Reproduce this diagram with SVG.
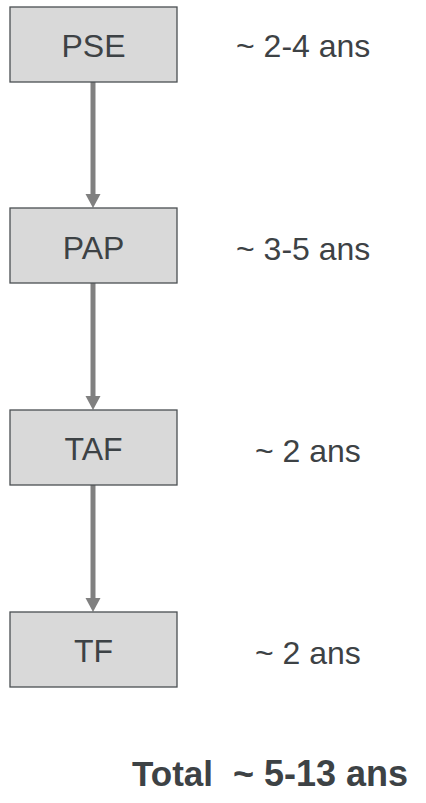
<svg xmlns="http://www.w3.org/2000/svg" width="426" height="803" viewBox="0 0 426 803">
<style>
.box{fill:#d9d9d9;stroke:#4a4f52;stroke-width:1.3}
.t{font-family:"Liberation Sans",Arial,sans-serif;font-size:32px;fill:#3d4245}
.c{text-anchor:middle}
.b{font-weight:bold;font-size:35px}
.conn{stroke:#808080;stroke-width:5;fill:none}
.head{fill:#808080}
</style>
<g id="connectors">
<line class="conn" x1="93" y1="82" x2="93" y2="196"/>
<polygon class="head" points="85.5,194 100.5,194 93,208"/>
<line class="conn" x1="93" y1="283" x2="93" y2="398"/>
<polygon class="head" points="85.5,396 100.5,396 93,410"/>
<line class="conn" x1="93" y1="485" x2="93" y2="600"/>
<polygon class="head" points="85.5,598 100.5,598 93,612"/>
</g>
<g id="PSE">
<rect class="box" x="10" y="7" width="167" height="75"/>
<text class="t c" x="93.5" y="57">PSE</text>
</g>
<g id="PAP">
<rect class="box" x="10" y="208" width="167" height="75"/>
<text class="t c" x="93.5" y="259">PAP</text>
</g>
<g id="TAF">
<rect class="box" x="10" y="410" width="167" height="75"/>
<text class="t c" x="93.5" y="460">TAF</text>
</g>
<g id="TF">
<rect class="box" x="10" y="612" width="167" height="75"/>
<text class="t c" x="93.5" y="662">TF</text>
</g>
<g id="labels">
<text class="t" x="236" y="57">~ 2-4 ans</text>
<text class="t" x="236" y="260">~ 3-5 ans</text>
<text class="t" x="255" y="462">~ 2 ans</text>
<text class="t" x="255" y="664">~ 2 ans</text>
<text class="t b" x="132" y="786">Total</text>
<text class="t b" x="233" y="786" style="font-size:36px">~ 5-13 ans</text>
</g>
</svg>
